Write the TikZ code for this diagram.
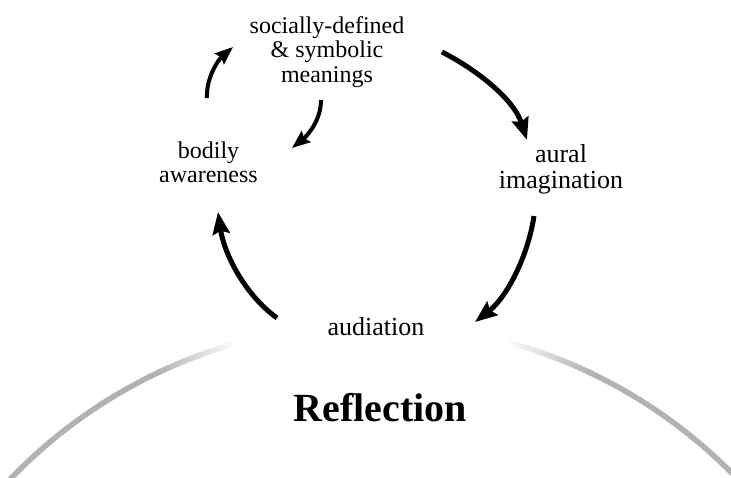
\documentclass[tikz,border=0pt]{standalone}
\usepackage{fontspec}
\setmainfont{Liberation Serif}
\usetikzlibrary{arrows.meta}
\tikzset{
  lbl/.style={align=center, inner sep=0pt, font=\fontsize{24}{24.5}\selectfont},
  lblbig/.style={align=center, inner sep=0pt, font=\fontsize{26}{26}\selectfont},
  cyc/.style={line width=5pt, -{Stealth[length=22pt,width=17pt,inset=3pt]}},
  cycsmall/.style={line width=4pt, -{Stealth[length=18pt,width=14pt,inset=2.5pt]}},
  arcseg/.style={line width=5.5pt},
}
\begin{document}
\begin{tikzpicture}[x=1pt,y=-1pt]
\useasboundingbox (0,0) rectangle (731,477);
\clip (0,0) rectangle (731,477);
\fill[white] (0,0) rectangle (731,477);

% faded great arc
\foreach \a in {105.5,106,...,115}{
  \pgfmathsetmacro\p{30*(\a-105.5)/9.5}
  \draw[arcseg, black!\p] ({374+504*cos(\a)},{828-504*sin(\a)}) -- ({374+504*cos(\a+0.6)},{828-504*sin(\a+0.6)});
}
\foreach \a in {75,74.5,...,65}{
  \pgfmathsetmacro\p{30*(75-\a)/10}
  \draw[arcseg, black!\p] ({374+504*cos(\a)},{828-504*sin(\a)}) -- ({374+504*cos(\a-0.6)},{828-504*sin(\a-0.6)});
}
\draw[arcseg, black!30] plot[domain=115.2:140, samples=40, smooth] ({374+504*cos(\x)},{828-504*sin(\x)});
\draw[arcseg, black!30] plot[domain=40:64.8, samples=40, smooth] ({374+504*cos(\x)},{828-504*sin(\x)});

% labels
\node[lbl] (soc) at (327,52) {socially-defined\\\& symbolic\\meanings};
\node[lbl] (body) at (208.5,162.3) {bodily\\awareness};
\node[lblbig] (aural) at (561,169) {aural\\imagination};
\node[lblbig, anchor=base] (aud) at (376,335) {audiation};
\node[inner sep=0pt, anchor=base, font=\fontsize{40}{40}\selectfont\bfseries] (refl) at (380.5,421) {Reflection};

% connector end points
\coordinate (a1s) at (207,98);  \coordinate (a1e) at (233,47);
\coordinate (a2s) at (321,100); \coordinate (a2e) at (292,148);
\coordinate (a3s) at (442,52);  \coordinate (a3e) at (527,140);
\coordinate (a4s) at (534,216); \coordinate (a4e) at (475,322);
\coordinate (a5s) at (277,318); \coordinate (a5e) at (218,212);

\draw[cycsmall] (a1s) .. controls (206,78) and (218,60) .. (a1e);
\draw[cycsmall] (a2s) .. controls (321,120) and (308,135) .. (a2e);
\draw[cyc] (a3s) .. controls (479,71) and (514,100) .. (a3e);
\draw[cyc] (a4s) .. controls (528,256) and (507,297) .. (a4e);
\draw[cyc] (a5s) .. controls (244,294) and (224,253) .. (a5e);
\end{tikzpicture}
\end{document}
